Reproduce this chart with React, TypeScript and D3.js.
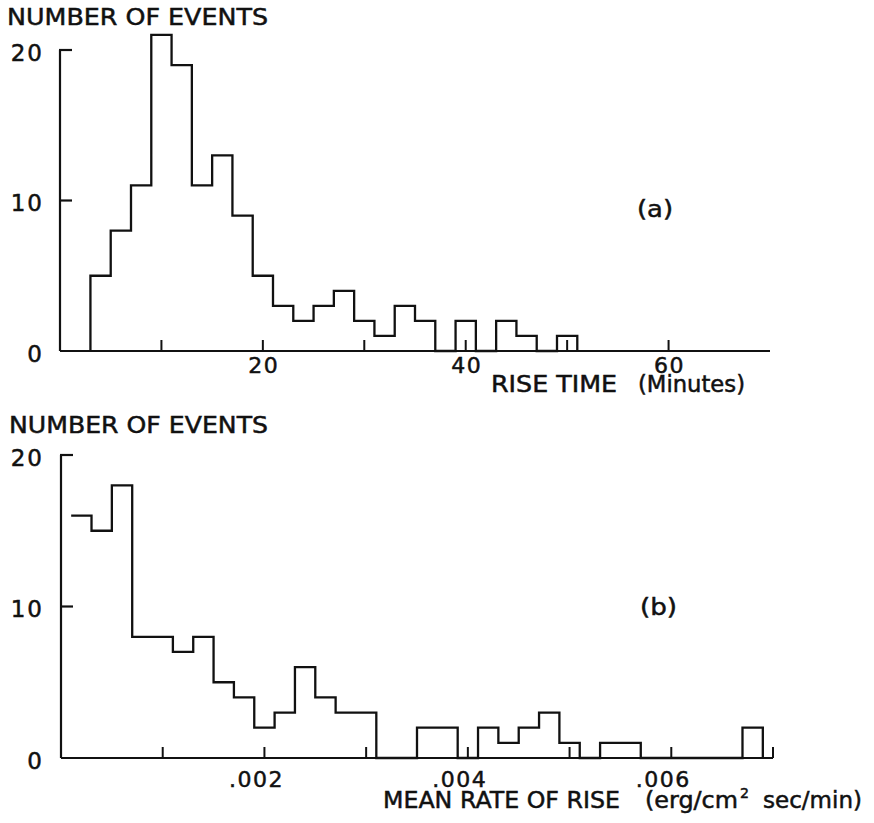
import React from "react";
import * as d3 from "d3";

// ---------- Data ----------
// (a) Rise time histogram (minutes), bin width 2
const riseBinStarts = [3, 5, 7, 9, 11, 13, 15, 17, 19, 21, 23, 25, 27, 29, 31, 33, 35, 37, 39, 41, 43, 45, 47, 49];
const riseBinWidth = 2;
const riseCounts = [5, 8, 11, 21, 19, 11, 13, 9, 5, 3, 2, 3, 4, 2, 1, 3, 2, 0, 2, 0, 2, 1, 0, 1];
const riseTicks = [10, 20, 30, 40, 50, 60];
const riseTickLabels = [20, 40, 60];

// (b) Mean rate of rise histogram (erg/cm^2 sec/min), bin width 0.0002
const rateBinStarts = [
  0.0001, 0.0003, 0.0005, 0.0007, 0.0009, 0.0011, 0.0013, 0.0015, 0.0017, 0.0019,
  0.0021, 0.0023, 0.0025, 0.0027, 0.0029, 0.0031, 0.0033, 0.0035, 0.0037, 0.0039,
  0.0041, 0.0043, 0.0045, 0.0047, 0.0049, 0.0051, 0.0053, 0.0055, 0.0057, 0.0059,
  0.0061, 0.0063, 0.0065, 0.0067,
];
const rateBinWidth = 0.0002;
const rateCounts = [
  16, 15, 18, 8, 8, 7, 8, 5, 4, 2,
  3, 6, 4, 3, 3, 0, 0, 2, 2, 0,
  2, 1, 2, 3, 1, 0, 1, 1, 0, 0,
  0, 0, 0, 2,
];
const rateTicks = [0.001, 0.002, 0.003, 0.004, 0.005, 0.006, 0.007];
const rateTickLabels = [0.002, 0.004, 0.006];

const yTicks = [10, 20];
const yTickLabels = [0, 10, 20];

const FONT = "'DejaVu Sans', 'Liberation Sans', sans-serif";
const INK = "#111";

type PanelProps = {
  starts: number[];
  width: number;
  counts: number[];
  xDomain: [number, number];
  xRange: [number, number];
  y0: number;
  y20: number;
  ticks: number[];
  tickLabels: number[];
  fmt: (v: number) => string;
  labelDx: number;
  labelBaseline: number;
  startFromBaseline: boolean;
};

function Panel(p: PanelProps) {
  const x = d3.scaleLinear().domain(p.xDomain).range(p.xRange);
  const y = d3.scaleLinear().domain([0, 20]).range([p.y0, p.y20]);
  const pts: [number, number][] = [];
  if (p.startFromBaseline) pts.push([p.starts[0], 0]);
  p.starts.forEach((s, i) => {
    pts.push([s, p.counts[i]]);
    pts.push([s + p.width, p.counts[i]]);
  });
  pts.push([p.starts[p.starts.length - 1] + p.width, 0]);
  const line = d3
    .line<[number, number]>()
    .x((d) => x(d[0]))
    .y((d) => y(d[1]))
    .curve(d3.curveLinear);
  const x0 = x(p.xDomain[0]);
  return (
    <g>
      {/* axes */}
      <line x1={x0} x2={x(p.xDomain[1])} y1={y(0)} y2={y(0)} stroke={INK} strokeWidth={2.2} />
      <line x1={x0} x2={x0} y1={y(0)} y2={y(20)} stroke={INK} strokeWidth={2.2} />
      {yTicks.map((t) => (
        <line key={"yt" + t} x1={x0 - 1} x2={x0 + 12} y1={y(t)} y2={y(t)} stroke={INK} strokeWidth={2.2} />
      ))}
      {p.ticks.map((t) => (
        <line key={"xt" + t} x1={x(t)} x2={x(t)} y1={y(0)} y2={y(0) - 11} stroke={INK} strokeWidth={2} />
      ))}
      {/* histogram outline */}
      <path d={line(pts) || ""} fill="none" stroke={INK} strokeWidth={2.3} strokeLinejoin="miter" />
      {/* y tick labels */}
      {yTickLabels.map((t) => (
        <text
          key={"yl" + t}
          x={44}
          y={y(t) + 10.5}
          textAnchor="end"
          fontFamily={FONT}
          fontSize={23}
          letterSpacing={2}
          fill={INK}
          stroke={INK}
          strokeWidth={0.5}
        >
          {String(t)}
        </text>
      ))}
      {/* x tick labels */}
      {p.tickLabels.map((t) => (
        <text
          key={"xl" + t}
          x={x(t) + p.labelDx}
          y={p.labelBaseline}
          textAnchor="middle"
          fontFamily={FONT}
          fontSize={22}
          letterSpacing={1.5}
          fill={INK}
          stroke={INK}
          strokeWidth={0.5}
        >
          {p.fmt(t)}
        </text>
      ))}
    </g>
  );
}

function T(props: { x: number; y: number; len?: number; size?: number; children: string }) {
  return (
    <text
      x={props.x}
      y={props.y}
      fontFamily={FONT}
      fontSize={props.size ?? 23}
      fill={INK}
      stroke={INK}
      strokeWidth={0.5}
      textLength={props.len}
      lengthAdjust={props.len ? "spacingAndGlyphs" : undefined}
    >
      {props.children}
    </text>
  );
}

export default function App() {
  return (
    <svg
      width={874}
      height={823}
      viewBox="0 0 874 823"
      style={{ position: "absolute", left: 0, top: 0, background: "#fff" }}
    >
      <rect width={874} height={823} fill="#fff" />
      <T x={7} y={25} len={261}>NUMBER OF EVENTS</T>
      <Panel
        starts={riseBinStarts}
        width={riseBinWidth}
        counts={riseCounts}
        xDomain={[0, 70]}
        xRange={[60, 770]}
        y0={351}
        y20={50}
        ticks={riseTicks}
        tickLabels={riseTickLabels}
        fmt={(v) => String(v)}
        labelDx={1}
        labelBaseline={373}
        startFromBaseline={true}
      />
      <T x={637} y={217} len={36}>(a)</T>
      <T x={491} y={392} len={126}>RISE TIME</T>
      <T x={638} y={392} len={107}>(Minutes)</T>

      <T x={9} y={433} len={259}>NUMBER OF EVENTS</T>
      <Panel
        starts={rateBinStarts}
        width={rateBinWidth}
        counts={rateCounts}
        xDomain={[0, 0.007]}
        xRange={[61, 773]}
        y0={758}
        y20={455}
        ticks={rateTicks}
        tickLabels={rateTickLabels}
        fmt={(v) => d3.format(".3f")(v).replace(/^0/, "")}
        labelDx={-8}
        labelBaseline={787}
        startFromBaseline={false}
      />
      <T x={640} y={615} len={37}>(b)</T>
      <T x={383} y={808} len={237}>MEAN RATE OF RISE</T>
      <T x={645} y={808} len={93}>(erg/cm</T>
      <T x={740} y={798} size={14} len={9}>2</T>
      <T x={763} y={808} len={99}>sec/min)</T>
    </svg>
  );
}
